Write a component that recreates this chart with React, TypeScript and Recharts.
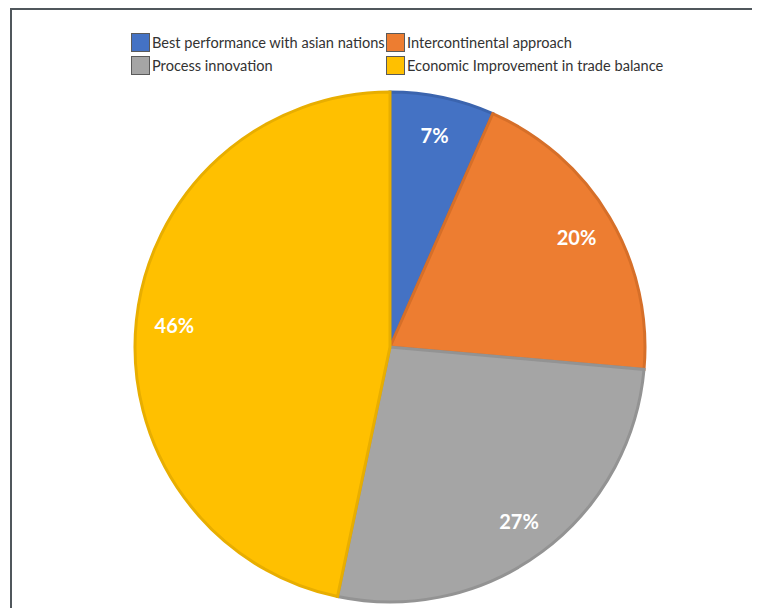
import { PieChart, Pie, Cell, Legend } from 'recharts';

const categories = [
  'Best performance with asian nations',
  'Intercontinental approach',
  'Process innovation',
  'Economic Improvement in trade balance',
];
const values = [6.6, 19.8, 26.9, 46.7];
const labels = ['7%', '20%', '27%', '46%'];

const FILLS = ['#4472C4', '#ED7D31', '#A5A5A5', '#FFC000'];
const STROKES = ['#3B64AE', '#D66F29', '#939393', '#E8AE00'];

const data = categories.map((name, i) => ({ name, value: values[i], label: labels[i] }));

const RADIAN = Math.PI / 180;

function renderLabel(props: any) {
  const { cx, cy, midAngle, outerRadius, index } = props;
  const r = outerRadius * 0.85;
  const x = cx + r * Math.cos(-midAngle * RADIAN);
  const y = cy + r * Math.sin(-midAngle * RADIAN);
  return (
    <text
      x={x}
      y={y}
      fill="#FFFFFF"
      textAnchor="middle"
      dominantBaseline="central"
      fontFamily="Lato, sans-serif"
      fontWeight={700}
      fontSize={20}
    >
      {labels[index]}
    </text>
  );
}

// legend laid out like the original: two columns, two rows
const legendOrder = [0, 1, 2, 3];

function renderLegend() {
  return (
    <div
      style={{
        display: 'grid',
        gridTemplateColumns: '255px 300px',
        rowGap: 3,
        fontFamily: 'Lato, sans-serif',
        fontSize: 14.6,
        color: '#333',
      }}
    >
      {legendOrder.map((i) => (
        <div key={i} style={{ display: 'flex', alignItems: 'center', height: 20 }}>
          <span
            style={{
              width: 19,
              height: 19,
              background: FILLS[i],
              border: '1px solid #5a5a5a',
              marginRight: 2,
              boxSizing: 'border-box',
              display: 'inline-block',
            }}
          />
          <span style={{ whiteSpace: 'nowrap' }}>{categories[i]}</span>
        </div>
      ))}
    </div>
  );
}

export default function App() {
  return (
    <div
      style={{
        position: 'fixed',
        left: 10,
        top: 8,
        width: 740,
        height: 598,
        overflow: 'hidden',
        borderTop: '2px solid #50575c',
        borderLeft: '2px solid #50575c',
        background: '#fff',
      }}
    >
      <PieChart width={738} height={598} margin={{ top: 0, right: 0, bottom: 0, left: 0 }}>
        <Legend
          content={renderLegend}
          wrapperStyle={{ position: 'absolute', left: 119, top: 22, width: 560 }}
        />
        <Pie
          data={data}
          dataKey="value"
          nameKey="name"
          cx={378}
          cy={337}
          outerRadius={255}
          startAngle={90}
          endAngle={-270}
          label={renderLabel}
          labelLine={false}
          isAnimationActive={false}
        >
          {data.map((d, i) => (
            <Cell key={d.name} fill={FILLS[i]} stroke={STROKES[i]} strokeWidth={3} />
          ))}
        </Pie>
      </PieChart>
    </div>
  );
}
